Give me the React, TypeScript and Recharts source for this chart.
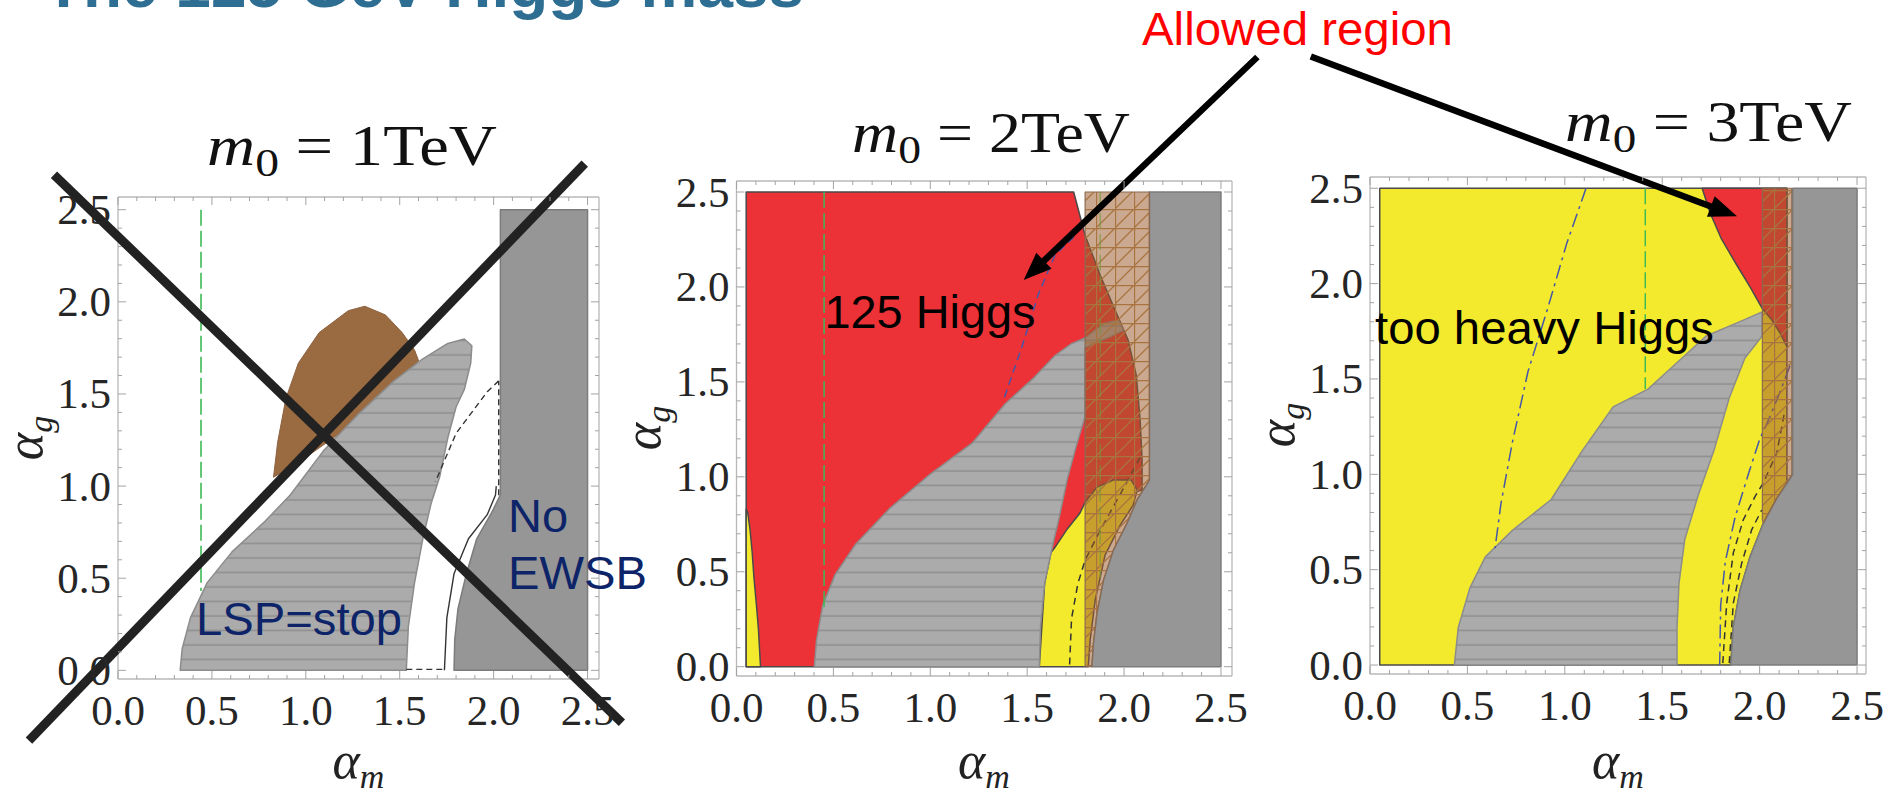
import React from 'react'
import { ComposedChart, Scatter, XAxis, YAxis, ReferenceLine } from 'recharts'

// tick values on every frame side (minor 0.1, labelled every 0.5)
const AXIS_TICKS = [0, 0.1, 0.2, 0.3, 0.4, 0.5, 0.6, 0.7, 0.8, 0.9, 1.0, 1.1, 1.2, 1.3, 1.4, 1.5, 1.6, 1.7, 1.8, 1.9, 2.0, 2.1, 2.2, 2.3, 2.4, 2.5]

// ---- m0 = 1 TeV ----
const P1_GRAY = [[2.036, 2.5], [2.5, 2.5], [2.5, 0], [1.789, 0], [1.793, 0.167], [1.81, 0.333], [1.855, 0.524], [1.91, 0.714], [1.99, 0.857], [2.036, 0.952]]
const P1_BROWN = [[0.828, 1.048], [0.85, 1.238], [0.894, 1.476], [0.96, 1.667], [1.071, 1.833], [1.226, 1.952], [1.314, 1.976], [1.424, 1.929], [1.513, 1.833], [1.579, 1.738], [1.601, 1.679], [1.45, 1.55], [1.2, 1.3], [0.95, 1.12]]
const P1_LSP = [[0.331, 0], [0.342, 0.119], [0.386, 0.286], [0.475, 0.476], [0.607, 0.643], [0.784, 0.81], [0.917, 0.952], [1.093, 1.19], [1.27, 1.381], [1.469, 1.571], [1.623, 1.69], [1.756, 1.774], [1.844, 1.798], [1.884, 1.762], [1.878, 1.667], [1.844, 1.524], [1.8, 1.429], [1.756, 1.262], [1.712, 1.048], [1.667, 0.905], [1.623, 0.714], [1.579, 0.476], [1.546, 0.238], [1.535, 0]]
const P1_GREEN = [[0.442, 2.5], [0.442, 0.43]]
const P1_SOLID = [[1.738, 0], [1.751, 0.286], [1.789, 0.524], [1.866, 0.714], [1.966, 0.845], [2.01, 0.952], [2.014, 1.0]]
const P1_DASH_V = [[2.027, 0.95], [2.027, 1.571]]
const P1_DASH_DIAG = [[2.027, 1.571], [1.966, 1.512], [1.8, 1.286], [1.69, 1.024]]
const P1_DASH_BOTTOM = [[1.535, 0.005], [1.745, 0.005]]
const P1_CROSS_A = [[-0.341, 2.69], [2.683, -0.285]]
const P1_CROSS_B = [[-0.474, -0.381], [2.485, 2.75]]

// ---- m0 = 2 TeV ----
const P2_RED = [[0.05, 0], [0.05, 2.5], [1.74, 2.5], [1.799, 2.272], [1.877, 2.062], [1.954, 1.877], [2.021, 1.72], [2.063, 1.535], [2.083, 1.298], [2.093, 1.088], [2.093, 0.93], [1.8, 0.85], [1.64, 0.62], [1.5625, 0]]
const P2_YELLOW_LEFT = [[0.05, 0], [0.124, 0], [0.113, 0.2], [0.103, 0.323], [0.09, 0.47], [0.081, 0.6], [0.07, 0.72], [0.058, 0.81], [0.05, 0.83]]
const P2_YELLOW_RIGHT = [[1.5625, 0], [1.59, 0.439], [1.622, 0.6], [1.64, 0.623], [1.708, 0.727], [1.772, 0.808], [1.799, 0.866], [1.861, 0.946], [1.944, 0.983], [2.037, 0.983], [2.068, 0.93], [2.047, 0.851], [1.98, 0.746], [1.902, 0.588], [1.851, 0.351], [1.825, 0.14], [1.815, 0]]
const P2_LSP = [[0.402, 0], [0.413, 0.139], [0.445, 0.323], [0.509, 0.485], [0.616, 0.646], [0.788, 0.831], [1.002, 1.016], [1.216, 1.177], [1.387, 1.385], [1.537, 1.524], [1.644, 1.639], [1.729, 1.701], [1.798, 1.731], [1.894, 1.807], [1.971, 1.825], [1.997, 1.772], [1.928, 1.737], [1.842, 1.702], [1.798, 1.68], [1.798, 1.316], [1.751, 1.154], [1.708, 0.993], [1.665, 0.785], [1.633, 0.646], [1.59, 0.439], [1.569, 0.208], [1.5625, 0]]
const P2_GRAY = [[2.131, 2.5], [2.5, 2.5], [2.5, 0], [1.834, 0], [1.842, 0.123], [1.86, 0.281], [1.894, 0.456], [1.945, 0.614], [2.015, 0.755], [2.066, 0.877], [2.131, 0.983]]
const P2_BAND = [[1.799, 0], [1.799, 2.5], [2.131, 2.5], [2.131, 0.983], [2.066, 0.877], [2.015, 0.755], [1.945, 0.614], [1.894, 0.456], [1.86, 0.281], [1.842, 0.123], [1.834, 0]]
const P2_GREEN = [[0.452, 2.5], [0.452, 0.3]]
const P2_GREEN_BAND = [[1.877, 2.5], [1.877, 0.47]]
const P2_BLUE = [[1.383, 1.42], [1.473, 1.685], [1.558, 1.962], [1.644, 2.17], [1.74, 2.262]]
const P2_BLACK = [[1.719, 0.012], [1.729, 0.254], [1.762, 0.439], [1.799, 0.561], [1.877, 0.719], [2.006, 0.956], [2.083, 1.103]]
const P2_ARROW = [[2.688, 3.211], [1.482, 2.036]]

// ---- m0 = 3 TeV ----
const P3_YELLOW = [[0.05, 0], [0.05, 2.5], [2.14, 2.5], [2.14, 0.95], [2.088, 0.874], [2.019, 0.743], [1.951, 0.568], [1.9, 0.394], [1.865, 0.201], [1.852, 0]]
const P3_RED = [[1.705, 2.5], [2.14, 2.5], [2.14, 1.67], [2.105, 1.74], [2.062, 1.81], [2.013, 1.87], [1.953, 1.979], [1.884, 2.095], [1.804, 2.234], [1.745, 2.373]]
const P3_LSP = [[0.433, 0], [0.453, 0.197], [0.513, 0.405], [0.592, 0.567], [0.731, 0.706], [0.93, 0.868], [1.089, 1.123], [1.248, 1.354], [1.427, 1.447], [1.526, 1.539], [1.626, 1.632], [1.725, 1.725], [1.884, 1.794], [2.013, 1.852], [2.013, 1.725], [1.924, 1.609], [1.844, 1.4], [1.765, 1.123], [1.685, 0.891], [1.616, 0.66], [1.586, 0.428], [1.576, 0.197], [1.576, 0]]
const P3_GRAY = [[2.17, 2.5], [2.5, 2.5], [2.5, 0], [1.852, 0], [1.865, 0.201], [1.9, 0.394], [1.951, 0.568], [2.019, 0.743], [2.088, 0.874], [2.17, 0.997]]
const P3_BAND = [[2.014, 0.76], [2.014, 2.5], [2.165, 2.5], [2.165, 0.997], [2.088, 0.874], [2.019, 0.743]]
const P3_GREEN = [[1.413, 2.5], [1.413, 1.447]]
const P3_BLUE_A = [[1.109, 2.5], [1.01, 2.211], [0.91, 1.863], [0.811, 1.539], [0.731, 1.169], [0.672, 0.845], [0.642, 0.613]]
const P3_BLUE_B = [[2.156, 1.57], [2.1, 1.42], [2.04, 1.27], [2.003, 1.192], [1.944, 1.007], [1.874, 0.775], [1.824, 0.544], [1.8, 0.313], [1.795, 0]]
const P3_BLACK_A = [[1.811, 0.01], [1.831, 0.325], [1.865, 0.588], [1.916, 0.761], [1.976, 0.883], [2.019, 0.955], [2.088, 1.112], [2.13, 1.338]]
const P3_BLACK_B = [[1.844, 0.01], [1.865, 0.325], [1.908, 0.534], [1.959, 0.709], [2.011, 0.814]]
const P3_ARROW = [[-0.304, 3.191], [1.884, 2.353]]

const RED = '#ec3237'
const YELLOW = '#f4ea2d'
const DARK_GRAY = '#969696'
const EDGE = '#4a4a4a'
const FRAME = '#b8b8b8'
const SERIF = '"Liberation Serif", "Times New Roman", serif'
const SANS = '"Liberation Sans", Arial, sans-serif'

type Layer = {
  data: number[][]
  fill?: string
  stroke: string
  sw: number
  dash?: string
  closed?: boolean
  opacity?: number
}

const region = (data: number[][], fill: string, stroke: string, sw = 1.5): Layer => ({ data, fill, stroke, sw, closed: true })
const curve = (data: number[][], stroke: string, dash: string, sw = 1.5, opacity = 1): Layer => ({ data, stroke, sw, dash, opacity })

const toPts = (a: number[][]) => a.map(([x, y]) => ({ x, y }))

const NoDot = () => <g />

function FrameTick(props: any) {
  const { x, y, payload, side } = props
  const v = payload.value as number
  const major = Math.abs(v * 2 - Math.round(v * 2)) < 1e-6
  const len = major ? 8 : 4
  const lbl = { fontFamily: SERIF, fontSize: 43, fill: '#262626' }
  if (side === 'bottom') {
    return (
      <g>
        <line x1={x} y1={y} x2={x} y2={y - len} stroke="#a3a3a3" />
        {major && <text x={x} y={y + 31} textAnchor="middle" dominantBaseline="central" {...lbl}>{v.toFixed(1)}</text>}
      </g>
    )
  }
  if (side === 'top') return <line x1={x} y1={y} x2={x} y2={y + len} stroke="#a3a3a3" />
  if (side === 'left') {
    return (
      <g>
        <line x1={x} y1={y} x2={x + len} y2={y} stroke="#a3a3a3" />
        {major && <text x={x - 7} y={y} textAnchor="end" dominantBaseline="central" {...lbl}>{v.toFixed(1)}</text>}
      </g>
    )
  }
  return <line x1={x} y1={y} x2={x - len} y2={y} stroke="#a3a3a3" />
}

function ArrowShape(p: any) {
  const { x1, y1, x2, y2 } = p
  const dx = x2 - x1
  const dy = y2 - y1
  const L = Math.hypot(dx, dy)
  const ux = dx / L
  const uy = dy / L
  const head = 28
  const half = 11
  const bx = x2 - ux * head
  const by = y2 - uy * head
  return (
    <g>
      <line x1={x1} y1={y1} x2={bx + ux * 3} y2={by + uy * 3} stroke="#000" strokeWidth={6.5} />
      <polygon points={`${x2},${y2} ${bx - uy * half},${by + ux * half} ${bx + uy * half},${by - ux * half}`} fill="#000" />
    </g>
  )
}

type PanelCfg = {
  left: number
  width: number
  // plot frame edges, in pixels from the chart's own box
  frame: { top: number; right: number; bottom: number; left: number }
  xDomain: [number, number]
  yDomain: [number, number]
  layers: Layer[]
  crosses?: number[][][]
  arrows?: number[][][]
}

const PANELS: PanelCfg[] = [
  {
    left: 0,
    width: 640,
    frame: { top: 197, right: 41, bottom: 109, left: 118 },
    xDomain: [0, 2.561],
    yDomain: [-0.047, 2.569],
    layers: [
      region(P1_GRAY, DARK_GRAY, '#7c7c7c'),
      region(P1_BROWN, '#9a6a40', '#8d6240', 1),
      region(P1_LSP, 'url(#lspHatch)', '#8c8c8c'),
      curve(P1_GREEN, '#3dba55', '16 5', 1.6),
      curve(P1_SOLID, '#333', '', 1.4),
      curve(P1_DASH_V, '#333', '6 4', 1.4),
      curve(P1_DASH_DIAG, '#333', '6 4', 1.4),
      curve(P1_DASH_BOTTOM, '#333', '6 4', 1.4),
    ],
    crosses: [P1_CROSS_A, P1_CROSS_B],
  },
  {
    left: 640,
    width: 640,
    frame: { top: 181, right: 48, bottom: 112, left: 96.5 },
    xDomain: [0, 2.557],
    yDomain: [-0.049, 2.558],
    layers: [
      region(P2_RED, RED, EDGE),
      region(P2_YELLOW_LEFT, YELLOW, EDGE),
      region(P2_YELLOW_RIGHT, YELLOW, EDGE),
      region(P2_LSP, 'url(#lspHatch)', '#8c8c8c'),
      region(P2_GRAY, DARK_GRAY, '#7c7c7c'),
      curve(P2_GREEN, '#3dba55', '16 5', 1.5),
      curve(P2_BLUE, '#4656a8', '8 5', 1.5),
      curve(P2_BLACK, '#333', '7 5', 1.5),
      region(P2_BAND, 'url(#bandHatch)', '#8a6a52', 1.2),
      curve(P2_GREEN_BAND, '#6f9a3c', '16 5', 1.3, 0.7),
    ],
    arrows: [P2_ARROW],
  },
  {
    left: 1280,
    width: 607,
    frame: { top: 177, right: 21, bottom: 114, left: 90 },
    xDomain: [0, 2.546],
    yDomain: [-0.047, 2.559],
    layers: [
      region(P3_YELLOW, YELLOW, EDGE),
      region(P3_RED, RED, EDGE),
      region(P3_LSP, 'url(#lspHatch)', '#8c8c8c'),
      region(P3_GRAY, DARK_GRAY, '#7c7c7c'),
      curve(P3_GREEN, '#3dba55', '16 5', 1.5),
      curve(P3_BLUE_A, '#4656a8', '14 5 3 5', 1.5),
      curve(P3_BLUE_B, '#4656a8', '14 5 3 5', 1.5),
      curve(P3_BLACK_A, '#333', '7 5', 1.5),
      curve(P3_BLACK_B, '#333', '7 5', 1.5),
      region(P3_BAND, 'url(#bandHatch)', '#8a6a52', 1.2),
    ],
    arrows: [P3_ARROW],
  },
]

// every frame axis is 1px thick, so the margins give up that pixel
const AXIS_PX = 1

function Panel({ cfg }: { cfg: PanelCfg }) {
  const f = cfg.frame
  const margin = { top: f.top - AXIS_PX, right: f.right - AXIS_PX, bottom: f.bottom - AXIS_PX, left: f.left - AXIS_PX }
  const axisCommon = {
    type: 'number' as const,
    allowDataOverflow: true,
    ticks: AXIS_TICKS,
    interval: 0,
    tickSize: 0,
    tickMargin: 0,
    tickLine: false,
    axisLine: { stroke: FRAME, strokeWidth: 1.3 },
  }
  return (
    <div style={{ position: 'absolute', left: cfg.left, top: 0 }}>
      <ComposedChart width={cfg.width} height={788} margin={margin}>
        <XAxis {...axisCommon} xAxisId={0} dataKey="x" domain={cfg.xDomain} height={AXIS_PX} tick={(p: any) => <FrameTick {...p} side="bottom" />} />
        <XAxis {...axisCommon} xAxisId="top" orientation="top" dataKey="x" domain={cfg.xDomain} height={AXIS_PX} tick={(p: any) => <FrameTick {...p} side="top" />} />
        <YAxis {...axisCommon} yAxisId={0} dataKey="y" domain={cfg.yDomain} width={AXIS_PX} tick={(p: any) => <FrameTick {...p} side="left" />} />
        <YAxis {...axisCommon} yAxisId="right" orientation="right" dataKey="y" domain={cfg.yDomain} width={AXIS_PX} tick={(p: any) => <FrameTick {...p} side="right" />} />
        {cfg.layers.map((l, i) => (
          <Scatter
            key={i}
            data={toPts(l.data)}
            shape={NoDot}
            isAnimationActive={false}
            lineJointType={l.closed ? 'linearClosed' : 'linear'}
            line={{
              fill: l.fill ?? 'none',
              stroke: l.stroke,
              strokeWidth: l.sw,
              strokeDasharray: l.dash || undefined,
              strokeOpacity: l.opacity ?? 1,
              strokeLinejoin: 'round',
            }}
          />
        ))}
        {(cfg.crosses ?? []).map((s, i) => (
          <ReferenceLine
            key={'c' + i}
            segment={toPts(s)}
            ifOverflow="visible"
            stroke="#222"
            strokeWidth={9}
            zIndex={1500}
          />
        ))}
        {(cfg.arrows ?? []).map((s, i) => (
          <ReferenceLine key={'a' + i} segment={toPts(s)} ifOverflow="visible" shape={ArrowShape} zIndex={1500} />
        ))}
      </ComposedChart>
    </div>
  )
}

const TITLES = [
  { x: 207, y: 165, len: 290, tev: '1TeV' },
  { x: 852, y: 152, len: 278, tev: '2TeV' },
  { x: 1565, y: 141, len: 287, tev: '3TeV' },
]
const ALPHA_M = [358.5, 984, 1618]
const ALPHA_G = [
  { x: 42, y: 438 },
  { x: 660, y: 428 },
  { x: 1294, y: 425 },
]

export default function App() {
  return (
    <div style={{ position: 'absolute', left: 0, top: 0, width: 1887, height: 788, overflow: 'hidden', background: '#fff' }}>
      <svg width={0} height={0} style={{ position: 'absolute' }}>
        <defs>
          <pattern id="lspHatch" patternUnits="userSpaceOnUse" width={10} height={14.5}>
            <rect width={10} height={14.5} fill="#ababab" />
            <line x1={0} y1={7} x2={10} y2={7} stroke="#8f8f8f" strokeWidth={1.6} />
          </pattern>
          <pattern id="bandHatch" patternUnits="userSpaceOnUse" width={19} height={19}>
            <rect width={19} height={19} fill="#9c5b2b" fillOpacity={0.52} />
            <path d="M0 0.5 H19 M0.5 0 V19 M0 19 L19 0" stroke="#a8733e" strokeWidth={1.3} fill="none" />
          </pattern>
        </defs>
      </svg>

      {PANELS.map((c, i) => (
        <Panel key={i} cfg={c} />
      ))}

      <svg width={1887} height={788} style={{ position: 'absolute', left: 0, top: 0, pointerEvents: 'none' }}>
        <text x={44} y={7} fontFamily={SANS} fontWeight="bold" fontSize={64} fill="#2e6e92" textLength={760} lengthAdjust="spacingAndGlyphs">
          The 125 GeV Higgs mass
        </text>
        <text x={1142} y={45} fontFamily={SANS} fontSize={47} fill="#ff0000" textLength={311} lengthAdjust="spacingAndGlyphs">
          Allowed region
        </text>
        <text x={824.5} y={328} fontFamily={SANS} fontSize={47} fill="#000" textLength={211} lengthAdjust="spacingAndGlyphs">
          125 Higgs
        </text>
        <text x={1375} y={344} fontFamily={SANS} fontSize={47} fill="#000" textLength={339} lengthAdjust="spacingAndGlyphs">
          too heavy Higgs
        </text>
        <text x={196} y={635} fontFamily={SANS} fontSize={47} fill="#0d2469" textLength={206} lengthAdjust="spacingAndGlyphs">
          LSP=stop
        </text>
        <text x={508} y={532} fontFamily={SANS} fontSize={47} fill="#0d2469">
          No
        </text>
        <text x={508} y={589} fontFamily={SANS} fontSize={47} fill="#0d2469" textLength={139} lengthAdjust="spacingAndGlyphs">
          EWSB
        </text>

        {TITLES.map((t, i) => (
          <text key={i} x={t.x} y={t.y} fontFamily={SERIF} fontSize={56} fill="#111" textLength={t.len} lengthAdjust="spacingAndGlyphs">
            <tspan fontStyle="italic">m</tspan>
            <tspan fontSize={40} dy={11}>0</tspan>
            <tspan dy={-11}>{' = ' + t.tev}</tspan>
          </text>
        ))}
        {ALPHA_M.map((cx, i) => (
          <text key={i} x={cx} y={778} textAnchor="middle" fontFamily={SERIF} fontStyle="italic" fontSize={52} fill="#222">
            α<tspan fontSize={34} dy={10}>m</tspan>
          </text>
        ))}
        {ALPHA_G.map((p, i) => (
          <text key={i} transform={`translate(${p.x},${p.y}) rotate(-90)`} textAnchor="middle" fontFamily={SERIF} fontStyle="italic" fontSize={52} fill="#222">
            α<tspan fontSize={34} dy={10}>g</tspan>
          </text>
        ))}
      </svg>
    </div>
  )
}
